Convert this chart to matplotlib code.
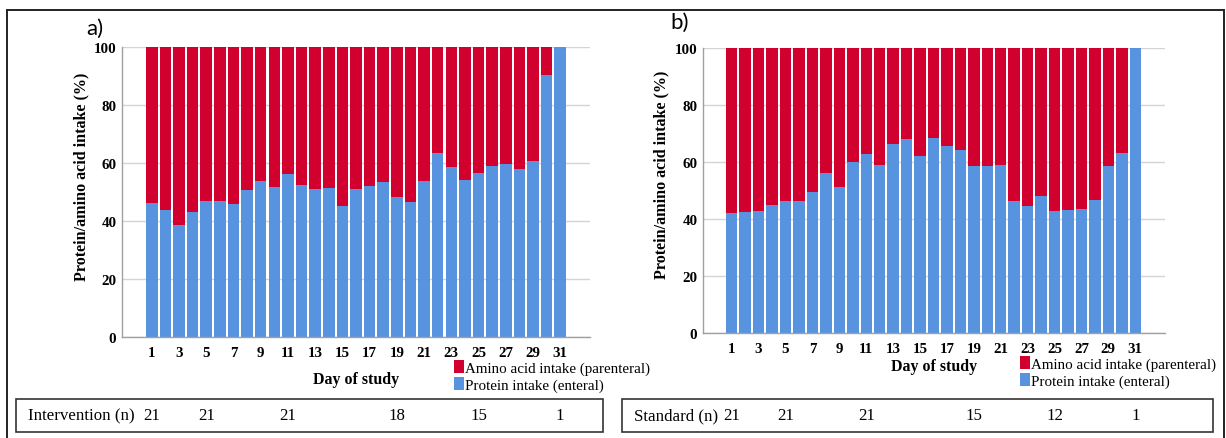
import numpy as np
import matplotlib
matplotlib.use("Agg")
import matplotlib.pyplot as plt
from matplotlib.patches import Rectangle, Patch
from matplotlib.transforms import blended_transform_factory

# ---- data -----------------------------------------------------------------
days = list(range(1, 32))

# Enteral protein share of total protein/amino acid intake (%), per day
enteral_intervention = [46.2, 43.9, 38.5, 43.1, 46.9, 46.9, 45.7, 50.8, 53.8, 51.7,
                        56.3, 52.3, 51.1, 51.4, 45.3, 51.2, 51.9, 53.6, 48.3, 46.6,
                        53.9, 63.3, 58.7, 54.1, 56.4, 59.1, 59.6, 58.1, 60.8, 90.2,
                        100.0]
enteral_standard = [42.1, 42.3, 42.9, 45.0, 46.2, 46.2, 49.4, 56.0, 51.1, 59.9,
                    62.7, 59.1, 66.3, 68.1, 62.2, 68.3, 65.7, 64.3, 58.7, 58.7,
                    58.9, 46.4, 44.7, 48.0, 42.7, 43.2, 43.5, 46.7, 58.7, 63.0,
                    100.0]

xtick_days = list(range(1, 32, 2))
yticks = [0, 20, 40, 60, 80, 100]

# Patients remaining per group on selected days
n_days = [1, 5, 11, 19, 25, 31]
n_intervention = [21, 21, 21, 18, 15, 1]
n_standard = [21, 21, 21, 15, 12, 1]

panel_letters = ["a)", "b)"]
group_labels = ["Intervention (n)", "Standard (n)"]
ylabel = "Protein/amino acid intake (%)"
xlabel = "Day of study"
legend_labels = ["Amino acid intake (parenteral)", "Protein intake (enteral)"]

# ---- style ----------------------------------------------------------------
RED = "#D2002E"
BLUE = "#5893E0"
GRID = "#D4D4D4"
SPINE = "#A0A0A0"
SERIF = ["Liberation Serif", "DejaVu Serif"]

W, H = 1226, 439
fig = plt.figure(figsize=(W / 100, H / 100), dpi=100)


def fx(px):
    return px / W


def fy(py):
    return 1 - py / H


def add_axes_px(left, top, right, bottom):
    return fig.add_axes([fx(left), fy(bottom), fx(right - left), (bottom - top) / H])


panels = [
    dict(box=(122, 48, 590, 338), xlim=(-1.19, 33.19), values=enteral_intervention,
         ylab=(-0.086, 0.555), xlab=(0.5, -0.145), letter=(86, 29),
         legend=(454, 361), table=(16, 400, 603, 433), label_x=28,
         counts=n_intervention, group=group_labels[0]),
    dict(box=(703, 49, 1165, 334), xlim=(-1.135, 33.21), values=enteral_standard,
         ylab=(-0.089, 0.558), xlab=(0.5, -0.116), letter=(670, 23),
         legend=(1020, 357), table=(622, 400, 1213, 433), label_x=634,
         counts=n_standard, group=group_labels[1]),
]

for i, p in enumerate(panels):
    ax = add_axes_px(*p["box"])
    enteral = np.array(p["values"])
    parenteral = 100 - enteral

    ax.bar(days, enteral, width=0.85, color=BLUE, zorder=2, linewidth=0)
    ax.bar(days, parenteral, bottom=enteral, width=0.85, color=RED, zorder=2, linewidth=0)

    ax.set_xlim(*p["xlim"])
    ax.set_ylim(0, 100)
    ax.set_xticks(xtick_days)
    ax.set_yticks(yticks)
    ax.yaxis.grid(True, color=GRID, linewidth=1.0, zorder=0)
    ax.set_axisbelow(True)
    for side in ("top", "right"):
        ax.spines[side].set_visible(False)
    for side in ("left", "bottom"):
        ax.spines[side].set_color(SPINE)
        ax.spines[side].set_linewidth(1.0)
    ax.tick_params(length=0, labelsize=10.8)
    ax.tick_params(axis="x", pad=6.5)
    ax.tick_params(axis="y", pad=4)
    for lab in ax.get_xticklabels() + ax.get_yticklabels():
        lab.set_fontfamily(SERIF)
        lab.set_fontweight("bold")

    ax.set_ylabel(ylabel, fontfamily=SERIF, fontweight="bold", fontsize=11.6, va="center")
    ax.yaxis.set_label_coords(*p["ylab"])
    ax.set_xlabel(xlabel, fontfamily=SERIF, fontweight="bold", fontsize=11.4, va="center")
    ax.xaxis.set_label_coords(*p["xlab"])

    # panel letter
    lx, ly = p["letter"]
    fig.text(fx(lx), fy(ly), panel_letters[i], fontfamily=["Lato", "DejaVu Sans"],
             fontsize=16, ha="left", va="center")

    # legend
    handles = [Patch(facecolor=RED, edgecolor="none"), Patch(facecolor=BLUE, edgecolor="none")]
    gx, gy = p["legend"]
    fig.legend(handles, legend_labels, loc="upper left", bbox_to_anchor=(fx(gx), fy(gy)),
               frameon=False, prop={"family": SERIF, "size": 10.8},
               handlelength=0.65, handleheight=1.0, handletextpad=0.1,
               labelspacing=0.1, borderpad=0, borderaxespad=0)

    # patient count table
    l, t, r, b = p["table"]
    fig.patches.append(Rectangle((fx(l), fy(b)), fx(r - l), (b - t) / H,
                                 transform=fig.transFigure, fill=False,
                                 edgecolor="#333333", linewidth=1.2))
    ty = fy((t + b) / 2)
    fig.text(fx(p["label_x"]), ty, p["group"], fontfamily=SERIF, fontsize=12.2,
             ha="left", va="center")
    trans = blended_transform_factory(ax.transData, fig.transFigure)
    for d, n in zip(n_days, p["counts"]):
        fig.text(d, ty, str(n), transform=trans, fontfamily=SERIF, fontsize=12.2,
                 ha="center", va="center")

# outer frame
fig.patches.append(Rectangle((fx(7), fy(460)), fx(1224 - 7), (460 - 11) / H,
                             transform=fig.transFigure, fill=False,
                             edgecolor="#222222", linewidth=1.4, clip_on=False))

fig.savefig("out.png", dpi=100)
